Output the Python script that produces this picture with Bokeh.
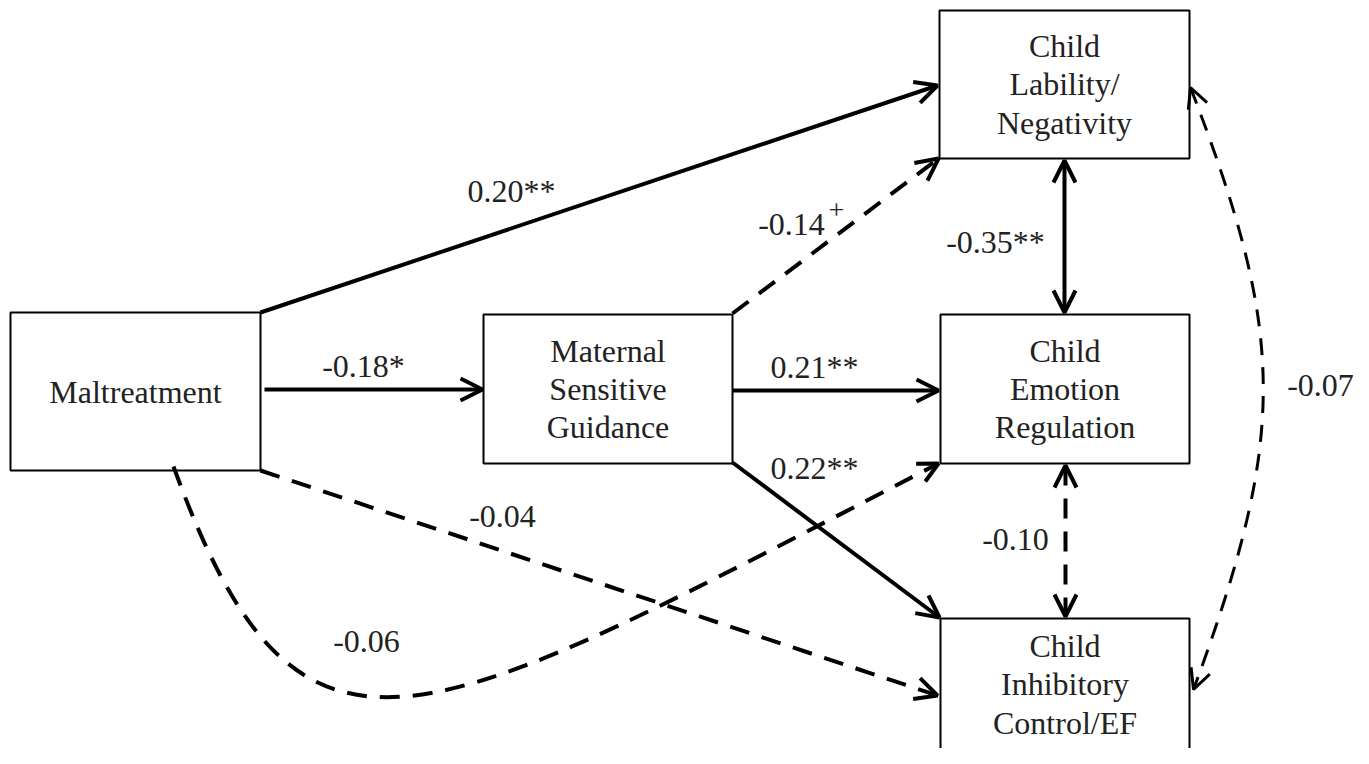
import numpy as np
from bokeh.plotting import figure
from bokeh.models import Range1d, Arrow, OpenHead
from bokeh.core.properties import value
from bokeh.embed import file_html
from bokeh.resources import INLINE

FONT = value("Liberation Serif")
TXT = "#222222"

# ---- data: nodes and path coefficients ----
node_names = ["Maltreatment",
              "Maternal\nSensitive\nGuidance",
              "Child\nLability/\nNegativity",
              "Child\nEmotion\nRegulation",
              "Child\nInhibitory\nControl/EF"]

path_from = ["MAL", "MAL", "MSG", "MSG", "MSG", "MAL", "MAL", "CLN", "CER", "CLN"]
path_to   = ["CLN", "MSG", "CLN", "CER", "CIC", "CIC", "CER", "CER", "CIC", "CIC"]
path_coef = [0.20, -0.18, -0.14, 0.21, 0.22, -0.04, -0.06, -0.35, -0.10, -0.07]
path_sig  = ["**", "*", "+", "**", "**", "", "", "**", "", ""]

# ---- layout (pixel space of the diagram) ----
node_keys = ["MAL", "MSG", "CLN", "CER", "CIC"]
box_l = [10, 483, 939, 940, 940]
box_r = [260, 732, 1189, 1189, 1189]
box_t = [312, 314, 10, 314, 618]
box_b = [470, 463, 158, 463, 760]
text_dy = [0, 0, 0, 0, -5]

seg = [((260, 312), (937, 85)),
       ((264, 389), (482, 389)),
       ((732, 313), (938, 158)),
       ((732, 390), (938, 390)),
       ((732, 462), (939, 617)),
       ((260, 470), (937, 695)),
       None,
       ((1064, 160), (1064, 312)),
       ((1065, 465), (1065, 616)),
       None]
two_way = [False, False, False, False, False, False, False, True, True, True]
curves = {6: ((173, 466), (300, 815), (420, 730), (938, 463)),
          9: ((1190, 87), (1285, 334), (1288, 432), (1193, 689))}
lab_pos = [(511, 190), (363, 365), (791, 224), (814, 366), (814, 467),
           (502, 516), (366, 641), (995, 241), (1015, 539), (1320, 385)]

W, H = 1353, 748
p = figure(width=W, height=H, output_backend="svg", toolbar_location=None,
           x_range=Range1d(0, W), y_range=Range1d(H, 0),
           min_border=0)
p.axis.visible = False
p.grid.visible = False
p.outline_line_color = None
p.background_fill_color = "white"

# boxes
p.quad(left=box_l, right=box_r, top=box_t, bottom=box_b,
       fill_color="white", line_color="black", line_width=2)
cx = [(a + b) / 2 for a, b in zip(box_l, box_r)]
cy = [(a + b) / 2 + d for a, b, d in zip(box_t, box_b, text_dy)]
p.text(x=cx, y=cy, text=node_names, text_align="center", text_baseline="middle",
       text_font=FONT, text_font_size="32px", text_color=TXT, text_line_height=1.06)

# paths
for i, coef in enumerate(path_coef):
    dashed = path_sig[i] in ("", "+")
    dash = "20 13" if dashed else "solid"
    lw = 4
    if i == 9:
        dash, lw = "17 12", 3
    if seg[i] is not None:
        (x0, y0), (x1, y1) = seg[i]
        arr = Arrow(x_start=x0, y_start=y0, x_end=x1, y_end=y1,
                    line_width=lw, line_color="black", line_dash=dash,
                    end=OpenHead(size=22, line_width=lw, line_color="black"),
                    start=OpenHead(size=22, line_width=lw, line_color="black") if two_way[i] else None)
        p.add_layout(arr)
    else:
        P0, P1, P2, P3 = curves[i]
        p.bezier(x0=[P0[0]], y0=[P0[1]], x1=[P3[0]], y1=[P3[1]],
                 cx0=[P1[0]], cy0=[P1[1]], cx1=[P2[0]], cy1=[P2[1]],
                 line_color="black", line_width=lw, line_dash=dash)
        ends = [(P3, P2)]
        if two_way[i]:
            ends.append((P0, P1))
        for tip, ctrl in ends:
            dx, dy = tip[0] - ctrl[0], tip[1] - ctrl[1]
            n = np.hypot(dx, dy)
            p.add_layout(Arrow(x_start=tip[0] - 6 * dx / n, y_start=tip[1] - 6 * dy / n,
                               x_end=tip[0], y_end=tip[1], line_alpha=0,
                               end=OpenHead(size=20, line_width=lw, line_color="black")))

# coefficient labels
lab_text = [f"{c:.2f}" + (s if s != "+" else "") for c, s in zip(path_coef, path_sig)]
p.text(x=[q[0] for q in lab_pos], y=[q[1] for q in lab_pos], text=lab_text,
       text_align="center", text_baseline="middle", text_font=FONT,
       text_font_size="32px", text_color=TXT)
sup_i = [i for i, s in enumerate(path_sig) if s == "+"]
p.text(x=[lab_pos[i][0] + 45 for i in sup_i], y=[lab_pos[i][1] - 15 for i in sup_i],
       text=["+" for _ in sup_i], text_align="center", text_baseline="middle",
       text_font=FONT, text_font_size="28px", text_color=TXT)

open("out.html", "w").write(file_html(p, INLINE))
